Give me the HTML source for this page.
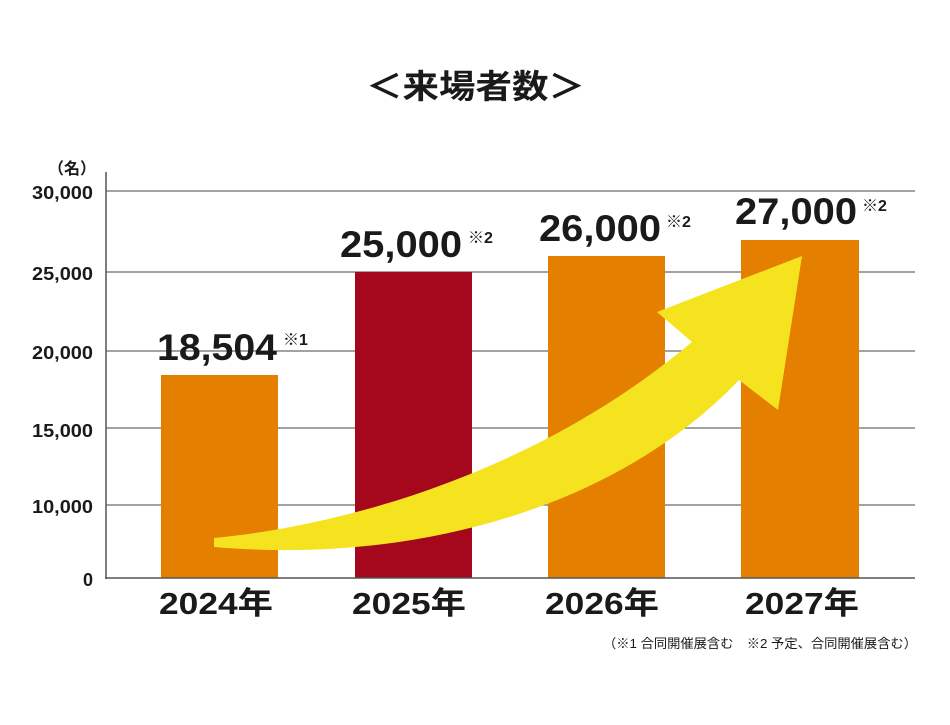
<!DOCTYPE html>
<html><head><meta charset="utf-8"><style>
html,body{margin:0;padding:0;background:#fff;}
svg text{font-family:"Liberation Sans","Noto Sans CJK JP",sans-serif;fill:#1a1a1a;}
</style></head><body>
<svg width="950" height="720" viewBox="0 0 950 720" xmlns="http://www.w3.org/2000/svg">
<text x="366" y="98" font-size="33" font-weight="bold" textLength="219" lengthAdjust="spacingAndGlyphs">＜来場者数＞</text>
<g stroke="#6a6a6a" stroke-width="1.2">
<line x1="106" y1="191" x2="915" y2="191"/>
<line x1="106" y1="272" x2="915" y2="272"/>
<line x1="106" y1="351" x2="915" y2="351"/>
<line x1="106" y1="428" x2="915" y2="428"/>
<line x1="106" y1="505" x2="915" y2="505"/>
</g>
<rect x="161" y="375" width="117" height="203" fill="#e47f00"/>
<rect x="355" y="272" width="117" height="306" fill="#a5071c"/>
<rect x="548" y="256" width="117" height="322" fill="#e47f00"/>
<rect x="741" y="240" width="118" height="338" fill="#e47f00"/>
<line x1="106" y1="172" x2="106" y2="579" stroke="#555" stroke-width="1.5"/>
<line x1="105" y1="578" x2="915" y2="578" stroke="#555" stroke-width="1.5"/>
<path d="M214,538 C350,525 540,470 692,342 L657,312 L802,256 L778,410 L739,380 C620,505 420,565 214,547 Z" fill="#f5e320"/>
<g font-size="18" font-weight="bold">
<text x="32" y="199" textLength="61" lengthAdjust="spacingAndGlyphs">30,000</text>
<text x="32" y="280" textLength="61" lengthAdjust="spacingAndGlyphs">25,000</text>
<text x="32" y="359" textLength="61" lengthAdjust="spacingAndGlyphs">20,000</text>
<text x="32" y="437" textLength="61" lengthAdjust="spacingAndGlyphs">15,000</text>
<text x="32" y="513" textLength="61" lengthAdjust="spacingAndGlyphs">10,000</text>
<text x="93" y="586" text-anchor="end">0</text>
</g>
<text x="96" y="174" font-size="16" font-weight="bold" text-anchor="end">（名）</text>
<g font-size="37" font-weight="bold">
<text x="157" y="360" textLength="120" lengthAdjust="spacingAndGlyphs">18,504</text>
<text x="340" y="257" textLength="122" lengthAdjust="spacingAndGlyphs">25,000</text>
<text x="539" y="241" textLength="122" lengthAdjust="spacingAndGlyphs">26,000</text>
<text x="735" y="224" textLength="122" lengthAdjust="spacingAndGlyphs">27,000</text>
</g>
<g font-size="16" font-weight="bold">
<text x="283" y="345">※1</text>
<text x="468" y="243">※2</text>
<text x="666" y="227">※2</text>
<text x="862" y="211">※2</text>
</g>
<g font-size="31" font-weight="bold">
<text x="159" y="614" textLength="114" lengthAdjust="spacingAndGlyphs">2024年</text>
<text x="352" y="614" textLength="114" lengthAdjust="spacingAndGlyphs">2025年</text>
<text x="545" y="614" textLength="114" lengthAdjust="spacingAndGlyphs">2026年</text>
<text x="745" y="614" textLength="114" lengthAdjust="spacingAndGlyphs">2027年</text>
</g>
<text x="603" y="648" font-size="13" textLength="314" lengthAdjust="spacingAndGlyphs">（※1 合同開催展含む　※2 予定、合同開催展含む）</text>
</svg>
</body></html>
